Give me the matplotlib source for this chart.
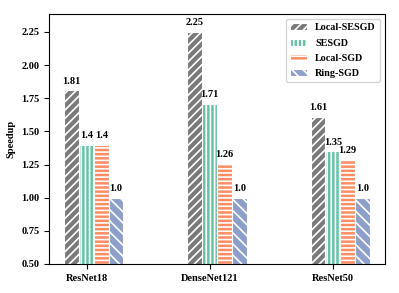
import matplotlib.pyplot as plt
import numpy as np

plt.rcParams['font.family'] = ['Liberation Serif', 'DejaVu Serif']
plt.rcParams['font.weight'] = 'bold'
plt.rcParams['hatch.linewidth'] = 1.2

models = ['ResNet18', 'DenseNet121', 'ResNet50']
methods = ['Local-SESGD', 'SESGD', 'Local-SGD', 'Ring-SGD']
local_sesgd = [1.81, 2.25, 1.61]
sesgd = [1.4, 1.71, 1.35]
local_sgd = [1.4, 1.26, 1.29]
ring_sgd = [1.0, 1.0, 1.0]

series = [local_sesgd, sesgd, local_sgd, ring_sgd]
colors = ['#7a7a7a', '#66c2a5', '#fc8d62', '#8da0cb']
hatches = ['////', '||||', '----', '\\\\\\']

fig = plt.figure(figsize=(3.99, 2.93), dpi=100)
ax = fig.add_axes([0.123, 0.099, 0.842, 0.853])

x = np.arange(len(models))
w = 0.12
for i, vals in enumerate(series):
    pos = x + (i - 1) * w
    ax.bar(pos, vals, w, color=colors[i], edgecolor='white', hatch=hatches[i],
           linewidth=0.8, label=methods[i])
    for p, v in zip(pos, vals):
        ax.text(p, v + 0.035, str(v), ha='center', va='bottom', fontsize=7.5,
                fontweight='bold')

ax.set_xticks(x)
ax.set_xticklabels(models, fontsize=7.5, fontweight='bold')
ax.tick_params(axis='y', labelsize=7.5)
ax.set_ylim(0.5, 2.385)
ax.set_yticks([0.5, 0.75, 1.0, 1.25, 1.5, 1.75, 2.0, 2.25])
ax.set_ylabel('Speedup', fontsize=7.5, fontweight='bold')
ax.legend(loc='upper right', fontsize=7.3, handlelength=1.7, labelspacing=0.62)

plt.savefig('out.png', dpi=100)
